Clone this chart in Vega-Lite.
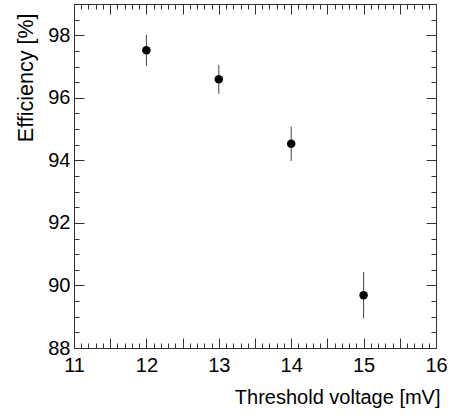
{
  "$schema": "https://vega.github.io/schema/vega-lite/v6.json",
  "width": 362,
  "height": 344,
  "autosize": "none",
  "padding": {"left": 74, "top": 4, "right": 18, "bottom": 68},
  "background": "white",
  "config": {
    "view": {"stroke": "#333333", "strokeWidth": 1},
    "font": "Liberation Sans",
    "axis": {"grid": false, "domain": false, "tickColor": "#333333", "labelColor": "black", "titleColor": "black", "labelFontSize": 20, "titleFontSize": 20, "titleFontWeight": "normal", "labelOverlap": false, "labelFlush": false}
  },
  "data": {
    "values": [
      {"v": 12, "eff": 97.52, "lo": 97.02, "hi": 98.02},
      {"v": 13, "eff": 96.59, "lo": 96.13, "hi": 97.05},
      {"v": 14, "eff": 94.53, "lo": 93.98, "hi": 95.08},
      {"v": 15, "eff": 89.69, "lo": 88.95, "hi": 90.43}
    ]
  },
  "layer": [
    {
      "mark": {"type": "rule", "color": "#444444", "strokeWidth": 1},
      "encoding": {
        "x": {
          "field": "v", "type": "quantitative",
          "scale": {"domain": [11, 16], "nice": false, "zero": false},
          "axis": {
            "orient": "bottom", "title": "Threshold voltage [mV]",
            "values": [11,11.1,11.2,11.3,11.4,11.5,11.6,11.7,11.8,11.9,12,12.1,12.2,12.3,12.4,12.5,12.6,12.7,12.8,12.9,13,13.1,13.2,13.3,13.4,13.5,13.6,13.7,13.8,13.9,14,14.1,14.2,14.3,14.4,14.5,14.6,14.7,14.8,14.9,15,15.1,15.2,15.3,15.4,15.5,15.6,15.7,15.8,15.9,16],
            "tickSize": {"condition": {"test": "abs(datum.value*2 - round(datum.value*2)) < 0.001", "value": -10}, "value": -5},
            "labelExpr": "abs(datum.value - round(datum.value)) < 0.001 ? format(datum.value, 'd') : ''",
            "labelPadding": 17,
            "titleAnchor": null, "titleAlign": "right", "titleBaseline": "alphabetic",
            "titleX": 366, "titleY": 55
          }
        },
        "y": {
          "field": "lo", "type": "quantitative",
          "scale": {"domain": [88, 99], "nice": false, "zero": false},
          "axis": {
            "orient": "left", "title": "Efficiency [%]",
            "values": [88,88.5,89,89.5,90,90.5,91,91.5,92,92.5,93,93.5,94,94.5,95,95.5,96,96.5,97,97.5,98,98.5,99],
            "tickSize": {"condition": {"test": "abs(datum.value/2 - round(datum.value/2)) < 0.001", "value": -10}, "value": -5},
            "labelExpr": "abs(datum.value/2 - round(datum.value/2)) < 0.001 ? format(datum.value, 'd') : ''",
            "labelPadding": 14,
            "titleFontSize": 21.5,
            "titleAnchor": null, "titleAngle": -90, "titleAlign": "right", "titleBaseline": "top",
            "titleX": -59, "titleY": 9
          }
        },
        "y2": {"field": "hi"}
      }
    },
    {
      "mark": {"type": "point", "filled": true, "size": 72, "color": "black", "opacity": 1},
      "encoding": {
        "x": {
          "field": "v", "type": "quantitative",
          "axis": {
            "orient": "top", "title": null, "labels": false,
            "values": [11,11.1,11.2,11.3,11.4,11.5,11.6,11.7,11.8,11.9,12,12.1,12.2,12.3,12.4,12.5,12.6,12.7,12.8,12.9,13,13.1,13.2,13.3,13.4,13.5,13.6,13.7,13.8,13.9,14,14.1,14.2,14.3,14.4,14.5,14.6,14.7,14.8,14.9,15,15.1,15.2,15.3,15.4,15.5,15.6,15.7,15.8,15.9,16],
            "tickSize": {"condition": {"test": "abs(datum.value*2 - round(datum.value*2)) < 0.001", "value": -10}, "value": -5}
          }
        },
        "y": {
          "field": "eff", "type": "quantitative",
          "axis": {
            "orient": "right", "title": null, "labels": false,
            "values": [88,88.5,89,89.5,90,90.5,91,91.5,92,92.5,93,93.5,94,94.5,95,95.5,96,96.5,97,97.5,98,98.5,99],
            "tickSize": {"condition": {"test": "abs(datum.value/2 - round(datum.value/2)) < 0.001", "value": -10}, "value": -5}
          }
        }
      }
    }
  ],
  "resolve": {"axis": {"x": "independent", "y": "independent"}}
}
